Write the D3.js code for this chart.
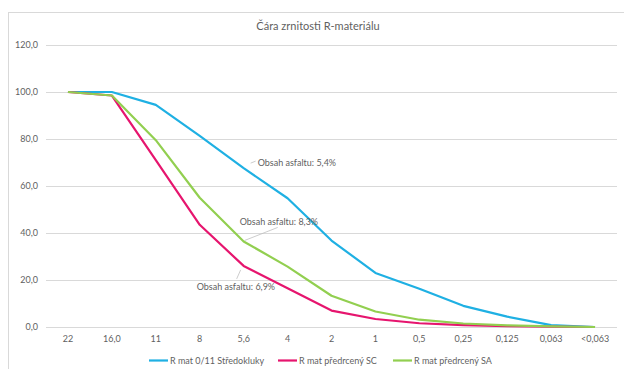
<!DOCTYPE html>
<html>
<head>
<meta charset="utf-8">
<script src="https://cdn.jsdelivr.net/npm/d3@7/dist/d3.min.js"></script>
<style>
  html, body { margin: 0; padding: 0; background: #fff; }
  svg { display: block; font-family: Lato, "Open Sans", sans-serif; }
</style>
</head>
<body>
<svg id="chart" width="624" height="369"></svg>
<script>
// Sieve sizes (mm) along the x axis
const sieves = ["22", "16,0", "11", "8", "5,6", "4", "2", "1", "0,5", "0,25", "0,125", "0,063", "<0,063"];

// Passing percentage for each material
const stredokluky = [100, 100, 94.5, 81.3, 67.6, 54.8, 36.8, 23.0, 16.3, 9.0, 4.4, 0.8, 0];
const predrcenySC = [100, 98.5, 71.0, 43.5, 26.0, 16.5, 7.0, 3.4, 1.6, 0.8, 0.4, 0.2, 0];
const predrcenySA = [100, 98.5, 79.5, 55.0, 36.4, 25.7, 13.3, 6.6, 3.1, 1.5, 0.7, 0.3, 0];

const seriesNames = ["R mat 0/11 Středokluky", "R mat předrcený SC", "R mat předrcený SA"];
const seriesColors = ["#1fb0e3", "#e6156e", "#92cf50"];

// Binder content stated for each material
const binderLabels = ["Obsah asfaltu: 5,4%", "Obsah asfaltu: 6,9%", "Obsah asfaltu: 8,3%"];

const yTicks = [0, 20, 40, 60, 80, 100, 120];
const title = "Čára zrnitosti R-materiálu";

const svg = d3.select("#chart");
const textColor = "#5f5f5f";
const smallFont = "9px";

// outer chart frame
svg.append("rect")
  .attr("x", 8.5).attr("y", 12.5)
  .attr("width", 640).attr("height", 380)
  .attr("fill", "none").attr("stroke", "#d9d9d9");

const x = d3.scaleBand().domain(sieves).range([46, 617]);
const cx = d => x(d) + x.bandwidth() / 2;
const y = d3.scaleLinear().domain([0, 120]).range([327, 45]);

// horizontal gridlines
svg.append("g")
  .selectAll("line")
  .data(yTicks)
  .join("line")
  .attr("x1", 46).attr("x2", 617)
  .attr("y1", d => Math.round(y(d)) + 0.5).attr("y2", d => Math.round(y(d)) + 0.5)
  .attr("stroke", "#d9d9d9").attr("stroke-width", 1);

// y axis
const fmt = v => d3.format(".1f")(v).replace(".", ",");
const yAxis = svg.append("g")
  .attr("transform", "translate(38,0)")
  .call(d3.axisLeft(y).tickValues(yTicks).tickFormat(fmt).tickSize(0).tickPadding(0));
yAxis.select(".domain").remove();
yAxis.selectAll("text")
  .attr("fill", textColor).style("font-size", smallFont).style("font-family", "Lato, sans-serif");

// x axis
const xAxis = svg.append("g")
  .attr("transform", "translate(0,327)")
  .call(d3.axisBottom(x).tickSize(0).tickPadding(9));
xAxis.select(".domain").remove();
xAxis.selectAll("text")
  .attr("fill", textColor).style("font-size", smallFont).style("font-family", "Lato, sans-serif");

// title
svg.append("text")
  .attr("x", 318).attr("y", 30)
  .attr("text-anchor", "middle")
  .attr("fill", textColor)
  .style("font-size", "11px")
  .text(title);

// series lines
const allSeries = [stredokluky, predrcenySC, predrcenySA];
const line = d3.line()
  .x((d, i) => cx(sieves[i]))
  .y(d => y(d));

svg.append("g")
  .selectAll("path")
  .data(allSeries)
  .join("path")
  .attr("d", d => line(d))
  .attr("fill", "none")
  .attr("stroke", (d, i) => seriesColors[i])
  .attr("stroke-width", 2.2)
  .attr("stroke-linejoin", "round");

// binder-content labels anchored at the 5,6 sieve point, with leader lines
const anchorIdx = sieves.indexOf("5,6");
const labelLayout = [
  { dx1: 7, dy1: -5, dx2: 12, dy2: -7, tx: 14, ty: -2 },   // Středokluky
  { dx1: -3, dy1: 4, dx2: -7, dy2: 13, tx: -47, ty: 24 },  // SC
  { dx1: 1, dy1: -1, dx2: 34, dy2: -14, tx: -4, ty: -16 }  // SA
];
const ann = svg.append("g");
allSeries.forEach((s, i) => {
  const px = cx(sieves[anchorIdx]);
  const py = y(s[anchorIdx]);
  const L = labelLayout[i];
  ann.append("polyline")
    .attr("points", [[px + L.dx1, py + L.dy1], [px + L.dx2, py + L.dy2]].map(p => p.join(",")).join(" "))
    .attr("fill", "none").attr("stroke", "#bfbfbf").attr("stroke-width", 0.8);
  ann.append("text")
    .attr("x", px + L.tx).attr("y", py + L.ty)
    .attr("fill", textColor)
    .style("font-size", smallFont)
    .text(binderLabels[i]);
});

// legend
const legendX = [149, 278, 393];
const legend = svg.append("g");
seriesNames.forEach((name, i) => {
  legend.append("line")
    .attr("x1", legendX[i]).attr("x2", legendX[i] + 19)
    .attr("y1", 360.5).attr("y2", 360.5)
    .attr("stroke", seriesColors[i]).attr("stroke-width", 2.2);
  legend.append("text")
    .attr("x", legendX[i] + 21).attr("y", 363.5)
    .attr("fill", textColor)
    .style("font-size", smallFont)
    .text(name);
});
</script>
</body>
</html>
